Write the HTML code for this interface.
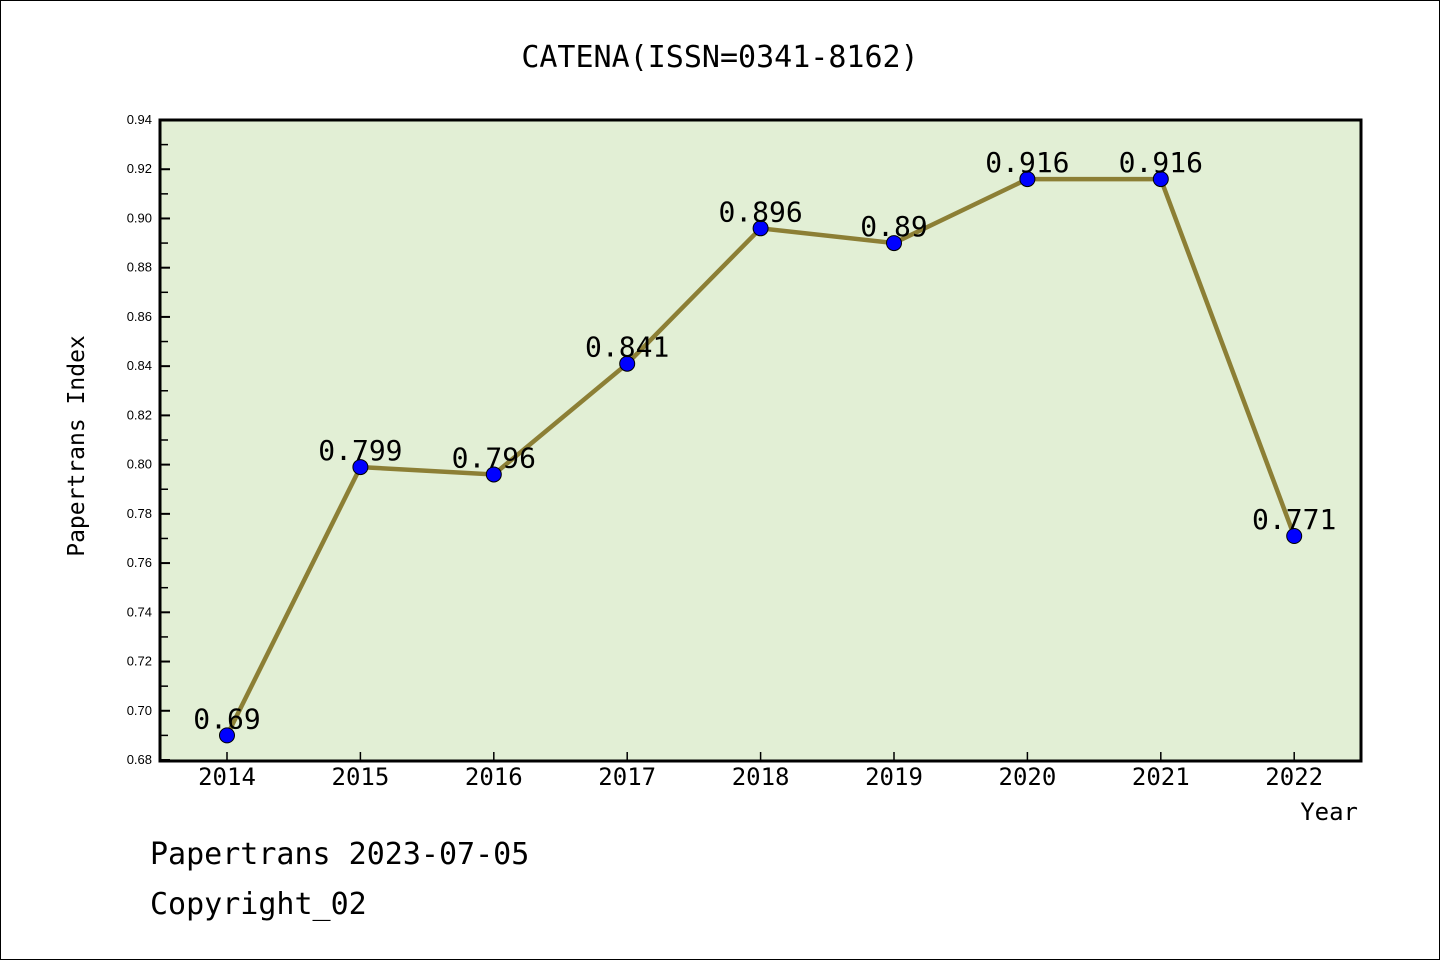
<!DOCTYPE html>
<html><head><meta charset="utf-8"><style>
body{margin:0;background:#fff}
svg{display:block}
text{font-family:"DejaVu Sans Mono","Liberation Mono",monospace}
</style></head><body>
<svg width="1440" height="960" xmlns="http://www.w3.org/2000/svg">
<rect x="0.5" y="0.5" width="1439" height="959" fill="#fff" stroke="#000"/>
<text x="720" y="67" style="font-size:30px" text-anchor="middle">CATENA(ISSN=0341-8162)</text>
<rect x="160" y="120" width="1201" height="641" fill="#e2efd5"/>
<g id="ticks"></g>
<g id="series"></g>
<rect x="160" y="120" width="1201" height="641" fill="none" stroke="#000" stroke-width="3"/>
<text x="84" y="446" style="font-size:23px" text-anchor="middle" transform="rotate(-90 84 446)">Papertrans Index</text>
<text x="1358" y="820" style="font-size:24px" text-anchor="end">Year</text>
<text x="150" y="864" style="font-size:30px">Papertrans 2023-07-05</text>
<text x="150" y="914" style="font-size:30px">Copyright_02</text>
</svg>
<script>
const years=["2014","2015","2016","2017","2018","2019","2020","2021","2022"];
const values=[0.69,0.799,0.796,0.841,0.896,0.89,0.916,0.916,0.771];
const valueLabels=["0.69","0.799","0.796","0.841","0.896","0.89","0.916","0.916","0.771"];
const yTicks=["0.68","0.70","0.72","0.74","0.76","0.78","0.80","0.82","0.84","0.86","0.88","0.90","0.92","0.94"];
const NS="http://www.w3.org/2000/svg";
const yMin=0.68,yMax=0.94;
function ys(v){return 760-(v-yMin)/(yMax-yMin)*640;}
function xs(i){return 227+i*133.4;}
function mk(t,a,p){const e=document.createElementNS(NS,t);for(const k in a)e.setAttribute(k,a[k]);p.appendChild(e);return e;}
const tg=document.getElementById('ticks'),sg=document.getElementById('series');
yTicks.forEach((t,i)=>{
 const y=ys(parseFloat(t));
 const l=mk('line',{x1:160,x2:170,y1:y,y2:y,stroke:'#000','stroke-width':2},tg);
 
 
 const tx=mk('text',{x:152,y:y+4,style:'font-family:"Liberation Sans",sans-serif;font-size:13px','text-anchor':'end'},tg);tx.textContent=t;
 
 
 if(i<yTicks.length-1){const ym=ys(parseFloat(t)+0.01);
  const m=mk('line',{x1:160,x2:168,y1:ym,y2:ym,stroke:'#000','stroke-width':1.5},tg);
  
  }
});
years.forEach((yr,i)=>{
 const x=xs(i);
 const l=mk('line',{x1:x,x2:x,y1:752,y2:760,stroke:'#000','stroke-width':1.5},tg);
 
 
 const tx=mk('text',{x:x,y:785,style:'font-size:24px','text-anchor':'middle'},tg);tx.textContent=yr;
 
 
});
const pts=values.map((v,i)=>xs(i)+','+ys(v)).join(' ');
const pl=mk('polyline',{points:pts,fill:'none',stroke:'#8c7f35','stroke-width':4.5},sg);


values.forEach((v,i)=>{
 const c=mk('circle',{cx:xs(i),cy:ys(v),r:7.5,fill:'#0000ff',stroke:'#000','stroke-width':1},sg);
 
 
 const t=mk('text',{x:xs(i),y:ys(v)-7,style:'font-size:28px','text-anchor':'middle'},sg);t.textContent=valueLabels[i];
 
 
});
</script>
</body></html>
